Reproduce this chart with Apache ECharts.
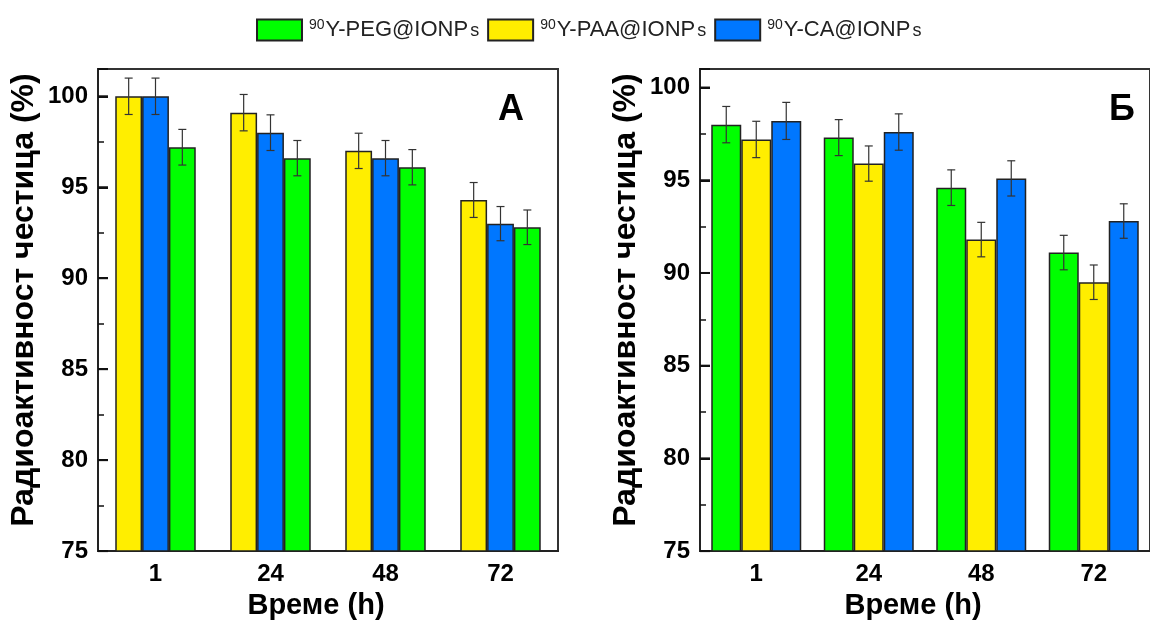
<!DOCTYPE html>
<html><head><meta charset="utf-8">
<script src="https://cdn.jsdelivr.net/npm/echarts@6/dist/echarts.min.js"></script>
<style>html,body{margin:0;padding:0;background:#fff}#c{width:1150px;height:625px}</style>
</head><body><div id="c"></div>
<script>
// ---- data ----
const categories = ['1', '24', '48', '72'];
const yTicks = [75, 80, 85, 90, 95, 100];
const yMinorTicks = [77.5, 82.5, 87.5, 92.5, 97.5];
const nameA = 'Радиоактивност честица (%)';
const xName = 'Време (h)';
const NAME_PEG = '90Y-PEG@IONPs';
const NAME_PAA = '90Y-PAA@IONPs';
const NAME_CA = '90Y-CA@IONPs';
// Panel А
const pegA = [97.2, 96.6, 96.1, 92.8];
const paaA = [100.0, 99.1, 97.0, 94.3];
const caA = [100.0, 98.0, 96.6, 93.0];
const pegErrA = [0.98, 0.97, 0.97, 0.95];
const paaErrA = [1.0, 1.0, 0.97, 0.96];
const caErrA = [1.0, 0.98, 0.97, 0.94];
// Panel Б
const pegB = [98.0, 97.3, 94.6, 91.1];
const paaB = [97.2, 95.9, 91.8, 89.5];
const caB = [98.2, 97.6, 95.1, 92.8];
const pegErrB = [0.98, 0.97, 0.96, 0.93];
const paaErrB = [0.98, 0.95, 0.93, 0.93];
const caErrB = [1.0, 0.98, 0.95, 0.93];

const COLORS = { peg: '#00FF00', paa: '#FFEE00', ca: '#0077FF' };
const FONT = 'Arial, "Liberation Sans", sans-serif';

const chart = echarts.init(document.getElementById('c'));

function barSeries(name, data, color, gi, gap) {
  return {
    type: 'bar', name, data, xAxisIndex: gi, yAxisIndex: gi * 3,
    barGap: '0%', barCategoryGap: gap,
    itemStyle: { color, borderColor: '#222', borderWidth: 1.5 },
    emphasis: { disabled: true }
  };
}
function errSeries(vals, errs, gi, pos, nBars, gapFrac) {
  return {
    type: 'custom', xAxisIndex: gi, yAxisIndex: gi * 3, z: 10, silent: true,
    encode: { x: 0, y: 1 },
    data: vals.map((v, i) => [i, v, errs[i]]),
    renderItem(params, api) {
      const x = api.value(0), v = api.value(1), e = api.value(2);
      const band = api.size([1, 0])[0];
      const bw = band * (1 - gapFrac) / nBars;
      const c = api.coord([x, v]);
      const cx = c[0] + (pos - (nBars - 1) / 2) * bw;
      const top = api.coord([x, v + e])[1];
      const bot = api.coord([x, v - e])[1];
      const hw = 4;
      const st = { stroke: '#333', lineWidth: 1.2 };
      return { type: 'group', children: [
        { type: 'line', shape: { x1: cx, y1: top, x2: cx, y2: bot }, style: st },
        { type: 'line', shape: { x1: cx - hw, y1: top, x2: cx + hw, y2: top }, style: st },
        { type: 'line', shape: { x1: cx - hw, y1: bot, x2: cx + hw, y2: bot }, style: st }
      ]};
    }
  };
}
function xAxis(gi) {
  return {
    type: 'category', gridIndex: gi, data: categories,
    axisLine: { lineStyle: { color: '#222', width: 2 } },
    axisTick: { show: false },
    axisLabel: { fontSize: 24, fontWeight: 'bold', color: '#000', margin: 11, fontFamily: FONT },
    name: xName, nameLocation: 'middle', nameGap: 39,
    nameTextStyle: { fontSize: 29, fontWeight: 'bold', color: '#000', fontFamily: FONT, padding: [0, 24, 0, 0] }
  };
}
function tickAxis(gi, max, values, len, width) {
  return {
    type: 'value', gridIndex: gi, position: 'left', offset: 0, min: 75, max, interval: 5,
    axisLine: { show: false },
    axisTick: { show: true, inside: true, length: len, customValues: values, lineStyle: { color: '#111', width } },
    axisLabel: { show: false }, splitLine: { show: false }
  };
}
function yAxes(gi, max) {
  return [{
    type: 'value', gridIndex: gi, position: 'left', min: 75, max, interval: 5,
    axisLine: { show: true, lineStyle: { color: '#222', width: 2 } },
    axisTick: { show: true, inside: true, length: 10, lineStyle: { color: '#111', width: 2 } },
    axisLabel: {
      formatter: v => (yTicks.indexOf(v) >= 0 ? String(v) : ''),
      fontSize: 24, fontWeight: 'bold', color: '#000', margin: 10, fontFamily: FONT
    },
    splitLine: { show: false },
    name: nameA, nameLocation: 'middle', nameGap: 58,
    nameTextStyle: { fontSize: 32, fontWeight: 'bold', color: '#000', fontFamily: FONT, padding: [0, 0, 0, 20] }
  },
  tickAxis(gi, max, yTicks, 10, 2),
  tickAxis(gi, max, yMinorTicks, 6, 1.5)];
}

const legendRich = {
  sup: { fontSize: 14, fontFamily: FONT, color: '#222', padding: [0, 1, 10, 2] },
  m: { fontSize: 22, fontFamily: FONT, color: '#222' },
  s: { fontSize: 18, fontFamily: FONT, color: '#222', padding: [3, 0, 0, 2] }
};

const panelLabels = [
  { type: 'text', left: 498, top: 92, style: { text: 'А', fill: '#000', font: 'bold 36px Arial, "Liberation Sans", sans-serif' } },
  { type: 'text', left: 1109, top: 92, style: { text: 'Б', fill: '#000', font: 'bold 36px Arial, "Liberation Sans", sans-serif' } }
];

chart.setOption({
  animation: false,
  backgroundColor: '#fff',
  legend: {
    data: [NAME_PEG, NAME_PAA, NAME_CA],
    left: 251, top: 13, itemWidth: 45, itemHeight: 21, itemGap: 8,
    icon: 'rect', selectedMode: false,
    formatter: n => '{sup|90}{m|' + n.slice(2, -1) + '}{s|s}',
    textStyle: { rich: legendRich }
  },
  grid: [
    { left: 98, right: 592, top: 69, bottom: 67, show: true, borderColor: '#333', borderWidth: 2 },
    { left: 700, right: -10, top: 69, bottom: 67, show: true, borderColor: '#333', borderWidth: 2 }
  ],
  xAxis: [xAxis(0), xAxis(1)],
  yAxis: [...yAxes(0, 101.5), ...yAxes(1, 101)],
  series: [
    barSeries(NAME_PAA, paaA, COLORS.paa, 0, '30%'),
    barSeries(NAME_CA, caA, COLORS.ca, 0, '30%'),
    barSeries(NAME_PEG, pegA, COLORS.peg, 0, '30%'),
    barSeries(NAME_PEG, pegB, COLORS.peg, 1, '20%'),
    barSeries(NAME_PAA, paaB, COLORS.paa, 1, '20%'),
    barSeries(NAME_CA, caB, COLORS.ca, 1, '20%'),
    errSeries(paaA, paaErrA, 0, 0, 3, 0.3),
    errSeries(caA, caErrA, 0, 1, 3, 0.3),
    errSeries(pegA, pegErrA, 0, 2, 3, 0.3),
    errSeries(pegB, pegErrB, 1, 0, 3, 0.2),
    errSeries(paaB, paaErrB, 1, 1, 3, 0.2),
    errSeries(caB, caErrB, 1, 2, 3, 0.2)
  ],
  graphic: panelLabels
});

// Major inside ticks, placed through the library's own axis scales:
// the axis edge is half a category band left of the first category centre.
const tickMarks = [];
[0, 1].forEach(gi => {
  yTicks.forEach(v => {
    const finder = { xAxisIndex: gi, yAxisIndex: gi * 3 };
    const p0 = chart.convertToPixel(finder, [0, v]);
    const p1 = chart.convertToPixel(finder, [1, v]);
    if (p0 && p1 && isFinite(p0[0]) && isFinite(p1[0]) && isFinite(p0[1])) {
      const edge = p0[0] - (p1[0] - p0[0]) / 2;
      tickMarks.push({
        type: 'line', z: 100, silent: true,
        shape: { x1: edge, y1: p0[1], x2: edge + 10, y2: p0[1] },
        style: { stroke: '#111', lineWidth: 2 }
      });
    }
  });
});
chart.setOption({ graphic: panelLabels.concat(tickMarks) });
</script>
</body></html>
